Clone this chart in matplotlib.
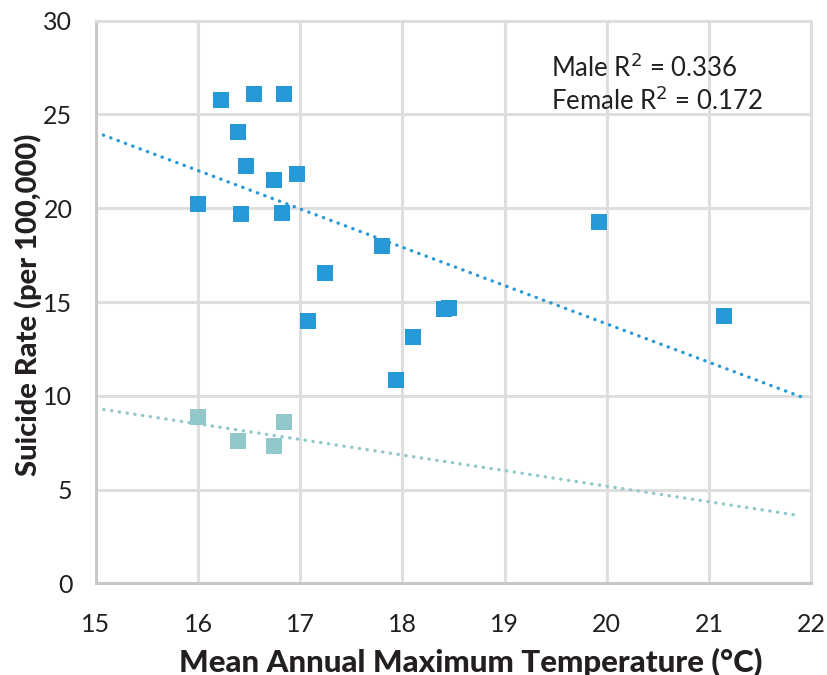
import matplotlib
matplotlib.use("Agg")
import matplotlib.pyplot as plt

# values
male_temp = [16.22, 16.55, 16.84, 16.39, 16.47, 16.74, 16.97, 16.00, 16.42, 16.82,
             17.80, 17.24, 17.08, 18.10, 17.94, 18.41, 18.46, 19.92, 21.15]
male_rate = [25.78, 26.08, 26.08, 24.05, 22.24, 21.49, 21.81, 20.21, 19.68, 19.77,
             17.97, 16.53, 13.97, 13.14, 10.83, 14.61, 14.67, 19.25, 14.24]

female_temp = [16.00, 16.39, 16.74, 16.84]
female_rate = [8.85, 7.57, 7.31, 8.59]

# trendline ends as drawn
male_trend_x = [15.0, 21.95]
male_trend_y = [24.05, 9.85]
female_trend_x = [15.0, 21.88]
female_trend_y = [9.33, 3.62]

x_ticks = [15, 16, 17, 18, 19, 20, 21, 22]
y_ticks = [0, 5, 10, 15, 20, 25, 30]

male_color = "#2699D6"
female_color = "#93C8CA"
text_color = "#231F20"

plt.rcParams['font.family'] = ['Lato', 'DejaVu Sans']

fig = plt.figure(figsize=(8.27, 6.75), dpi=100)
ax = fig.add_axes([0.1161, 0.1358, 0.8646, 0.8335])

for tx, ty, c in [(male_trend_x, male_trend_y, male_color),
                  (female_trend_x, female_trend_y, female_color)]:
    ax.plot(tx, ty, color=c, lw=2.4, linestyle=(0, (0.1, 2.25)),
            dash_capstyle='round', zorder=2)

ax.plot(female_temp, female_rate, 's', color=female_color, markersize=12.2,
        markeredgewidth=0, zorder=3)
ax.plot(male_temp, male_rate, 's', color=male_color, markersize=12.2,
        markeredgewidth=0, zorder=3)

ax.set_xlim(15, 22)
ax.set_ylim(0, 30)
ax.set_xticks(x_ticks)
ax.set_yticks(y_ticks)
ax.grid(True, color="#DEDEDE", lw=2.2, zorder=0)
ax.set_axisbelow(True)
ax.tick_params(length=0, labelsize=18, colors=text_color)
ax.tick_params(axis='x', pad=21)
ax.tick_params(axis='y', pad=17)

for side in ['top', 'right']:
    ax.spines[side].set_color("#DEDEDE")
    ax.spines[side].set_linewidth(2.2)
for side in ['left', 'bottom']:
    ax.spines[side].set_color("#C8C8C8")
    ax.spines[side].set_linewidth(2.2)

fig.text(0.5695, 0.0193, "Mean Annual Maximum Temperature (°C)", fontsize=22.5,
         fontweight='black', color=text_color, ha='center', va='center')
fig.text(0.034, 0.548, "Suicide Rate (per 100,000)", fontsize=21,
         fontweight='black', color=text_color, ha='center', va='center',
         rotation=90)

ax.text(19.45, 27.5, "Male R$^2$ = 0.336", fontsize=18.5, color=text_color,
        va='center', ha='left')
ax.text(19.45, 25.75, "Female R$^2$ = 0.172", fontsize=18.5, color=text_color,
        va='center', ha='left')

fig.savefig("out.png", dpi=100)
